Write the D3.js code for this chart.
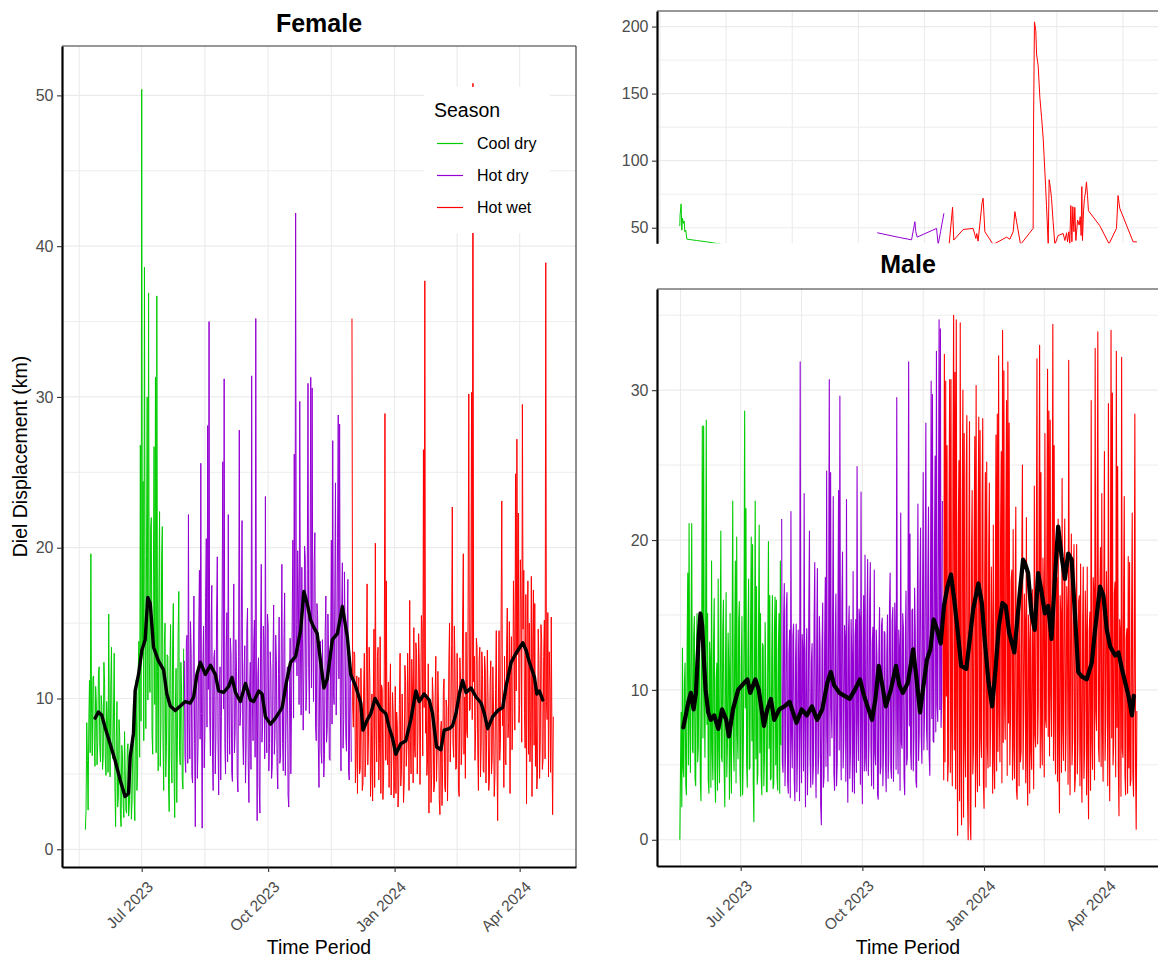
<!DOCTYPE html>
<html>
<head>
<meta charset="utf-8">
<script src="https://cdn.jsdelivr.net/npm/d3@7"></script>
<style>
  html, body { margin: 0; padding: 0; background: #fff; }
  svg { display: block; font-family: "Liberation Sans", Arial, sans-serif; }
</style>
</head>
<body>
<svg id="chart" width="1158" height="959"></svg>
<script>
var DAY = 864e5;

// first day of each series
var femaleStart = new Date(2023, 4, 21),
		maleStart = new Date(2023, 4, 16);

var seasonNames = ["Cool dry", "Hot dry", "Hot wet"],
		seasonColors = ["#00cd00", "#9400d3", "#ff0000"],
		seasonStarts = [new Date(2023, 0, 1), new Date(2023, 7, 1), new Date(2023, 11, 1)];

var xBreaks = [new Date(2023, 6, 1), new Date(2023, 9, 1), new Date(2024, 0, 1), new Date(2024, 3, 1)],
		xLabels = ["Jul 2023", "Oct 2023", "Jan 2024", "Apr 2024"];

// two displacement records (km) per day: first reading ...
var femaleKm = [
	1.3, 8.4, 2.6, 11.2, 19.6, 6.2, 11.5, 5.5, 9.7, 7.0,
	12.1, 5.8, 9.5, 6.1, 11.0, 4.9, 8.7, 15.6, 4.8, 13.4,
	6.0, 13.0, 1.5, 9.8, 3.5, 7.5, 1.5, 6.3, 2.1, 5.2,
	2.4, 7.0, 2.9, 6.3, 3.2, 9.6, 1.9, 11.2, 5.0, 13.8,
	26.8, 50.4, 24.4, 38.6, 8.0, 30.0, 36.9, 10.4, 22.0, 6.3,
	26.7, 31.3, 36.7, 5.2, 22.4, 8.2, 21.4, 3.9, 15.0, 6.8,
	12.8, 2.5, 14.9, 4.4, 16.3, 2.1, 12.0, 7.2, 17.1, 5.6,
	10.5, 4.0, 12.5, 5.1, 14.2, 22.2, 6.0, 13.0, 4.4, 16.8,
	1.5, 11.4, 6.8, 18.5, 25.6, 1.4, 14.8, 8.0, 20.6, 28.1,
	35.0, 6.2, 17.5, 3.9, 13.2, 7.5, 19.4, 3.6, 12.1, 8.8,
	25.7, 31.2, 5.0, 15.7, 22.2, 6.3, 12.9, 4.5, 17.6, 7.9,
	11.8, 3.8, 27.8, 9.1, 21.8, 5.6, 13.5, 6.9, 16.0, 3.1,
	12.4, 31.4, 7.2, 15.2, 35.2, 1.9, 12.7, 2.4, 18.9, 8.3,
	13.6, 23.4, 6.4, 14.8, 7.0, 11.9, 5.5, 16.2, 7.6, 12.5,
	4.0, 15.4, 6.1, 18.9, 5.2, 17.0, 8.3, 12.1, 2.8, 14.0,
	9.2, 20.5, 26.2, 42.2, 11.5, 16.8, 29.7, 8.9, 14.0, 12.0,
	19.3, 10.5, 30.9, 9.0, 31.3, 30.6, 9.8, 21.0, 7.2, 15.5,
	4.1, 13.8, 5.7, 11.0, 6.3, 16.8, 8.0, 12.7, 5.9, 20.5,
	27.1, 9.6, 24.3, 12.2, 28.8, 28.2, 5.2, 19.0, 8.6, 14.3,
	6.5, 17.9, 4.6, 11.0, 35.2, 8.1, 12.9, 6.0, 3.7, 11.4,
	5.3, 9.5, 4.4, 13.0, 6.2, 17.6, 7.4, 11.1, 5.5, 3.2,
	14.6, 20.3, 5.8, 13.4, 7.0, 3.7, 10.6, 4.8, 28.9, 17.8,
	5.6, 4.1, 12.3, 6.3, 9.0, 4.5, 3.7, 8.2, 4.0, 13.0,
	5.2, 7.8, 4.4, 11.2, 6.9, 9.8, 16.5, 5.0, 10.7, 14.7,
	6.1, 13.0, 7.7, 12.4, 9.2, 14.6, 26.5, 37.7, 10.3, 6.0,
	2.4, 8.9, 5.0, 10.1, 4.2, 12.8, 6.6, 9.0, 2.3, 8.5,
	5.7, 11.3, 3.8, 9.4, 6.3, 15.0, 8.2, 22.7, 6.1, 12.0,
	5.4, 9.9, 3.5, 11.2, 6.9, 19.6, 10.1, 14.4, 7.4, 30.2,
	9.3, 30.3, 50.8, 12.8, 8.0, 13.4, 3.9, 13.4, 6.8, 11.6,
	5.1, 11.9, 7.6, 10.0, 4.6, 12.5, 6.0, 9.3, 4.8, 14.5,
	1.9, 14.5, 7.0, 23.1, 9.7, 12.8, 5.6, 16.0, 8.4, 3.7,
	14.1, 9.0, 14.1, 24.9, 27.2, 22.3, 9.6, 16.4, 29.5, 18.5,
	6.7, 3.0, 17.8, 15.0, 8.1, 3.5, 17.2, 16.3, 10.3, 5.0,
	12.6, 7.2, 13.9, 5.9, 15.2, 38.9, 8.6, 4.8, 10.9, 15.4,
	2.3
];
// ... and second reading, half a day later
var femaleKm2 = [
	2.6, 5.9, 8.3, 6.4, 9.0, 11.4, 7.1, 10.8, 5.6, 11.6,
	6.8, 10.2, 5.3, 12.4, 6.0, 9.8, 5.1, 7.5, 10.9, 6.6,
	9.1, 4.2, 7.4, 2.8, 8.6, 2.3, 6.9, 3.0, 7.8, 2.6,
	6.6, 2.2, 5.8, 2.0, 7.3, 3.4, 8.8, 3.9, 12.0, 6.1,
	8.5, 13.1, 7.2, 15.4, 19.5, 9.9, 12.6, 21.3, 7.7, 18.2,
	9.6, 6.4, 11.8, 17.0, 5.5, 19.3, 7.1, 13.6, 4.8, 12.9,
	4.3, 11.7, 6.0, 13.5, 5.2, 9.4, 3.1, 14.2, 6.5, 12.4,
	4.6, 13.3, 6.2, 13.8, 5.7, 8.4, 15.1, 4.9, 12.6, 7.0,
	10.9, 4.7, 14.6, 7.3, 9.0, 12.2, 5.4, 16.7, 8.1, 10.6,
	8.8, 14.9, 6.1, 12.7, 5.0, 15.8, 7.4, 11.0, 4.6, 16.2,
	9.3, 7.0, 13.4, 5.8, 8.7, 14.0, 5.1, 12.5, 6.4, 13.9,
	4.9, 12.8, 8.2, 15.3, 7.6, 11.9, 4.4, 14.6, 5.9, 10.4,
	5.3, 9.7, 13.6, 6.1, 10.2, 11.5, 4.2, 13.9, 7.1, 14.8,
	6.0, 8.5, 15.6, 5.2, 13.1, 4.7, 12.3, 6.3, 14.2, 5.4,
	11.6, 5.7, 12.9, 7.0, 13.8, 4.9, 11.2, 3.6, 9.5, 5.0,
	15.1, 8.7, 12.4, 14.9, 19.8, 9.6, 13.3, 18.7, 7.9, 20.1,
	9.2, 18.6, 12.0, 17.4, 10.7, 14.5, 19.0, 8.1, 16.3, 6.9,
	12.2, 6.5, 13.9, 4.8, 14.4, 7.1, 15.6, 6.0, 13.5, 8.3,
	10.4, 17.2, 8.9, 20.6, 11.3, 9.8, 16.0, 6.7, 18.4, 7.5,
	14.8, 5.2, 12.6, 5.8, 9.5, 13.1, 4.4, 11.5, 9.9, 5.0,
	12.0, 3.9, 10.7, 4.8, 12.9, 5.6, 13.4, 3.5, 10.3, 9.7,
	4.1, 8.0, 12.8, 4.6, 14.1, 10.9, 3.3, 12.1, 5.9, 6.2,
	11.1, 9.8, 3.6, 10.4, 3.4, 10.8, 9.1, 2.8, 9.6, 4.2,
	10.3, 3.1, 12.2, 5.5, 13.0, 3.9, 7.2, 12.6, 4.4, 6.8,
	13.7, 5.0, 14.3, 4.3, 15.5, 6.2, 9.4, 7.7, 4.9, 12.3,
	9.7, 3.1, 11.4, 3.8, 10.0, 4.5, 11.8, 3.3, 7.9, 2.9,
	10.6, 4.1, 9.9, 3.2, 12.4, 5.8, 13.6, 7.0, 14.8, 5.3,
	13.0, 4.0, 12.7, 5.6, 15.2, 6.3, 4.7, 7.8, 16.1, 9.2,
	15.4, 8.6, 11.1, 5.9, 14.0, 6.6, 12.5, 4.8, 13.1, 5.2,
	12.8, 4.4, 13.2, 3.9, 11.0, 5.0, 12.1, 3.5, 10.6, 6.2,
	9.3, 5.9, 15.0, 8.2, 4.1, 6.0, 13.3, 7.4, 15.1, 12.0,
	6.6, 17.8, 7.9, 10.5, 12.9, 8.4, 19.2, 7.1, 14.6, 9.0,
	16.9, 14.2, 6.3, 5.8, 18.1, 13.6, 6.9, 5.5, 4.0, 14.6,
	4.7, 14.9, 5.3, 12.8, 6.0, 9.8, 15.7, 13.1, 5.1, 7.2,
	8.8
];

// male main panel (records up to 35 km), first reading each day ...
var maleKm = [
	0.0, 8.5, 12.8, 4.2, 11.8, 3.0, 17.8, 21.1, 4.5, 21.1,
	5.8, 14.9, 3.6, 15.1, 6.2, 12.5, 2.6, 27.6, 27.6, 5.5,
	28.0, 15.1, 3.1, 12.0, 18.6, 4.0, 16.1, 2.5, 11.8, 17.4,
	3.8, 20.6, 5.2, 16.0, 2.2, 16.5, 6.3, 11.5, 15.1, 3.1,
	22.6, 4.6, 18.6, 20.2, 5.4, 15.9, 2.9, 14.9, 6.1, 28.6,
	22.1, 3.5, 17.4, 4.8, 20.2, 19.7, 1.2, 22.6, 16.9, 4.4,
	21.0, 15.1, 3.0, 12.9, 5.5, 10.8, 3.2, 19.9, 16.3, 4.1,
	16.3, 3.7, 16.2, 16.0, 3.3, 15.1, 18.6, 21.4, 4.5, 17.1,
	6.0, 16.5, 3.1, 14.0, 21.9, 4.8, 14.4, 2.6, 14.4, 5.9,
	10.5, 31.9, 3.8, 12.6, 23.1, 2.2, 14.1, 6.4, 20.6, 3.5,
	13.1, 4.9, 18.5, 2.8, 18.1, 5.6, 12.9, 1.0, 15.8, 4.2,
	17.5, 24.6, 3.9, 30.7, 24.5, 6.8, 22.9, 3.3, 16.4, 5.1,
	23.3, 29.6, 4.0, 19.2, 6.7, 13.4, 22.7, 2.5, 15.6, 5.8,
	12.2, 17.9, 3.1, 14.7, 24.9, 5.3, 14.8, 23.2, 2.4, 16.3,
	19.0, 4.6, 18.7, 6.3, 18.5, 3.6, 14.2, 18.0, 5.0, 12.3,
	2.7, 15.5, 4.9, 14.8, 6.0, 13.8, 3.2, 15.0, 5.7, 17.8,
	4.1, 15.5, 7.4, 13.0, 29.5, 4.4, 12.6, 21.8, 6.1, 14.2,
	3.0, 16.6, 5.5, 31.9, 20.4, 4.7, 15.4, 6.9, 13.8, 3.5,
	22.4, 7.2, 20.8, 5.1, 24.5, 8.4, 27.8, 6.0, 22.2, 4.3,
	30.6, 29.7, 6.5, 25.6, 32.6, 7.9, 34.7, 34.1, 9.5, 14.0,
	32.4, 30.6, 26.3, 5.1, 30.7, 30.7, 3.6, 35.0, 31.2, 34.7,
	0.3, 25.3, 34.5, 1.0, 30.0, 27.1, 4.2, 28.3, 0.0, 27.9,
	0.0, 23.3, 6.1, 26.9, 30.3, 3.2, 28.2, 27.3, 5.5, 28.1,
	2.1, 24.5, 25.2, 4.8, 23.8, 7.9, 14.2, 21.0, 3.4, 27.0,
	28.4, 32.3, 5.2, 25.9, 34.0, 31.3, 6.7, 29.3, 31.9, 27.8,
	8.2, 18.0, 20.7, 4.1, 22.2, 2.7, 12.5, 16.0, 5.9, 25.0,
	8.8, 14.6, 21.5, 2.3, 13.2, 15.4, 4.7, 11.8, 23.6, 6.2,
	32.1, 9.0, 33.0, 24.5, 5.0, 16.2, 27.1, 7.5, 31.4, 28.6,
	28.0, 6.9, 34.4, 26.3, 4.4, 17.5, 21.4, 1.8, 15.0, 24.1,
	5.3, 21.4, 7.2, 14.9, 32.0, 3.0, 20.4, 6.8, 19.7, 4.1,
	19.7, 6.6, 16.3, 18.4, 2.5, 18.2, 6.1, 14.0, 18.2, 1.4,
	15.2, 29.3, 4.7, 16.6, 32.8, 7.3, 33.9, 5.2, 19.5, 23.1,
	3.9, 25.9, 8.0, 14.5, 29.1, 2.6, 34.0, 29.8, 6.4, 17.2,
	32.6, 24.9, 1.6, 13.8, 32.2, 5.5, 22.9, 3.0, 14.1, 18.9,
	18.5, 4.0, 21.8, 2.9, 28.4, 0.7
];
// ... and second reading
var maleKm2 = [
	4.5, 2.2, 4.8, 10.5, 3.7, 12.4, 5.0, 8.1, 13.9, 6.0,
	13.6, 4.1, 11.8, 5.2, 14.7, 3.9, 12.0, 6.8, 9.4, 14.3,
	7.7, 4.0, 13.2, 3.5, 5.9, 13.0, 4.6, 10.7, 3.3, 6.2,
	12.5, 5.5, 14.0, 4.9, 11.3, 4.2, 13.8, 2.7, 5.6, 12.9,
	6.4, 13.5, 3.8, 7.0, 14.6, 4.5, 11.7, 3.0, 13.4, 8.8,
	5.1, 12.6, 4.7, 14.1, 6.6, 3.9, 12.3, 5.4, 3.7, 13.7,
	5.8, 4.3, 13.1, 3.6, 14.5, 3.2, 12.8, 6.1, 4.0, 12.2,
	3.4, 13.9, 5.0, 4.2, 12.7, 3.1, 6.3, 5.2, 14.8, 3.6,
	15.3, 3.9, 12.4, 2.8, 6.9, 13.6, 4.0, 12.1, 3.2, 14.0,
	2.6, 7.4, 13.7, 4.6, 8.0, 12.5, 3.0, 15.2, 5.3, 11.9,
	3.7, 14.4, 5.8, 13.0, 4.4, 14.9, 2.3, 12.6, 3.5, 13.3,
	4.9, 7.2, 14.5, 5.6, 8.8, 15.0, 4.4, 13.2, 3.6, 14.1,
	6.0, 8.3, 15.7, 4.8, 14.3, 3.9, 6.6, 13.8, 4.1, 14.7,
	3.2, 5.7, 13.6, 4.5, 7.9, 15.4, 3.7, 6.8, 12.9, 4.6,
	5.5, 14.2, 4.3, 15.6, 6.2, 13.1, 3.4, 5.8, 14.0, 3.0,
	12.7, 4.4, 14.3, 3.6, 13.9, 5.2, 12.4, 4.1, 15.5, 4.8,
	14.6, 3.9, 15.8, 4.7, 8.2, 14.0, 3.3, 6.5, 15.1, 4.2,
	13.4, 5.0, 16.2, 7.6, 5.9, 15.3, 4.6, 16.8, 3.9, 14.5,
	5.3, 17.0, 6.9, 16.1, 6.0, 18.3, 7.4, 17.6, 5.7, 16.4,
	8.1, 6.6, 19.2, 7.2, 9.0, 20.4, 8.7, 7.5, 22.6, 4.0,
	5.2, 9.6, 3.9, 21.8, 4.5, 7.3, 25.0, 6.0, 3.4, 8.9,
	20.5, 2.6, 5.8, 22.4, 1.5, 6.2, 24.1, 3.0, 19.6, 1.2,
	18.9, 4.4, 20.3, 2.2, 5.7, 21.0, 3.6, 6.8, 22.5, 4.0,
	17.7, 3.5, 6.3, 19.4, 4.9, 18.2, 3.1, 5.4, 16.8, 4.6,
	5.9, 8.4, 20.6, 3.8, 6.5, 9.1, 21.7, 4.3, 7.8, 5.0,
	17.3, 4.0, 6.2, 16.5, 3.3, 15.8, 3.6, 5.2, 17.9, 4.7,
	16.4, 3.8, 5.5, 15.0, 3.1, 5.9, 16.7, 3.4, 7.0, 18.1,
	6.4, 19.5, 4.8, 7.3, 18.8, 4.2, 8.0, 20.2, 6.9, 5.6,
	9.7, 18.4, 5.3, 8.1, 17.2, 3.9, 6.0, 16.3, 4.5, 7.4,
	17.1, 4.6, 16.9, 3.7, 7.9, 15.6, 5.0, 17.4, 3.2, 14.8,
	4.4, 15.9, 3.6, 5.8, 14.2, 4.1, 16.6, 3.0, 5.5, 13.9,
	3.3, 6.7, 17.5, 4.0, 8.6, 18.8, 6.2, 16.0, 4.9, 7.1,
	16.2, 5.3, 17.9, 3.6, 7.7, 15.5, 6.8, 5.0, 16.4, 4.2,
	7.5, 4.9, 14.7, 2.9, 6.1, 16.3, 4.4, 13.5, 3.1, 4.8,
	3.6, 14.2, 4.5, 13.0, 5.2, 8.6
];

// rolling mean (black line): day offset from series start, km
var femaleMeanDay = [
	7.1, 9.5, 11.9, 14.3, 18.0, 21.6, 25.3, 28.9, 31.4, 32.6,
	35.0, 36.2, 38.7, 41.1, 43.5, 45.4, 47.2, 49.6, 53.2, 56.9,
	59.3, 61.8, 65.4, 69.1, 72.7, 76.4, 78.8, 81.2, 83.7, 87.3,
	91.0, 94.6, 97.0, 100.6, 104.3, 106.7, 109.2, 112.8, 116.5, 120.1,
	122.5, 126.2, 128.6, 131.0, 134.7, 138.3, 143.2, 146.1, 149.3, 153.0,
	156.6, 159.0, 161.4, 163.9, 166.3, 168.7, 171.2, 173.6, 176.0, 179.7,
	183.4, 187.0, 190.6, 193.1, 196.7, 200.4, 202.0, 205.2, 207.7, 210.8,
	214.9, 218.6, 221.0, 223.4, 225.9, 229.5, 233.2, 236.8, 240.5, 242.9,
	246.5, 250.2, 252.6, 255.5, 258.7, 261.1, 264.8, 267.2, 269.7, 272.1,
	274.5, 277.0, 280.6, 284.3, 287.9, 290.3, 292.8, 296.4, 300.1, 303.7,
	306.1, 309.8, 313.4, 318.3, 320.7, 323.1, 326.8, 328.5, 330.4, 332.8
];
var femaleMeanKm = [
	8.7, 9.1, 8.9, 8.1, 7.0, 5.9, 4.6, 3.5, 3.7, 6.1,
	7.7, 10.5, 11.6, 13.2, 13.9, 16.7, 16.3, 13.4, 12.5, 11.9,
	10.3, 9.5, 9.2, 9.5, 9.8, 9.7, 10.1, 11.6, 12.4, 11.6,
	12.2, 11.6, 10.5, 10.4, 10.8, 11.4, 10.4, 9.8, 11.0, 9.9,
	9.8, 10.5, 10.3, 8.8, 8.3, 8.7, 9.4, 11.0, 12.4, 12.8,
	14.5, 17.1, 16.3, 15.2, 14.7, 14.3, 12.4, 10.7, 11.3, 13.9,
	14.3, 16.1, 14.1, 11.6, 10.8, 9.7, 7.9, 8.6, 9.0, 10.0,
	9.3, 9.0, 8.1, 7.4, 6.3, 7.0, 7.2, 8.6, 10.5, 9.8,
	10.3, 9.9, 9.0, 6.8, 6.6, 7.9, 8.0, 8.2, 9.0, 10.3,
	11.2, 10.4, 10.7, 10.1, 9.7, 9.0, 8.0, 8.8, 9.2, 9.4,
	10.8, 12.4, 13.0, 13.7, 13.2, 12.4, 11.4, 10.3, 10.5, 9.9
];

var maleMeanDay = [
	2.6, 4.5, 6.5, 8.3, 10.4, 12.2, 14.3, 15.6, 16.9, 18.2,
	19.5, 21.5, 23.4, 26.0, 29.1, 31.9, 35.1, 37.1, 40.2, 44.1,
	48.0, 51.1, 53.2, 57.1, 59.7, 63.6, 66.1, 68.8, 71.4, 75.2,
	79.1, 83.0, 85.6, 88.2, 92.1, 96.0, 99.9, 103.8, 107.7, 111.6,
	114.2, 116.7, 120.7, 124.5, 128.4, 132.3, 136.2, 139.3, 141.9, 145.3,
	147.9, 150.4, 153.1, 155.7, 159.5, 163.4, 166.0, 168.7, 172.5, 176.4,
	179.0, 181.6, 184.2, 186.8, 189.4, 191.9, 194.6, 197.2, 199.7, 202.4,
	205.0, 207.5, 210.2, 212.7, 216.6, 219.2, 221.8, 225.7, 228.3, 230.9,
	233.4, 236.1, 238.7, 241.2, 243.9, 246.4, 249.0, 252.9, 257.0, 259.5,
	260.8, 263.3, 265.8, 268.3, 270.9, 273.5, 276.0, 278.5, 281.0, 283.5,
	286.0, 288.6, 291.1, 293.6, 296.2, 298.7, 301.2, 303.8, 307.6, 311.4,
	313.9, 317.7, 320.2, 322.8, 325.3, 329.1, 331.6, 334.2, 336.7, 339.2,
	341.8, 343.2
];
var maleMeanKm = [
	7.5, 8.3, 9.2, 9.8, 8.7, 9.8, 13.6, 15.1, 14.3, 12.0,
	10.0, 8.5, 8.0, 8.3, 7.4, 8.7, 8.0, 6.9, 8.7, 10.0,
	10.4, 10.7, 9.8, 10.7, 10.0, 7.6, 8.7, 9.4, 8.0, 8.7,
	8.9, 9.2, 8.5, 7.8, 8.7, 8.3, 8.9, 8.0, 8.7, 10.5,
	11.2, 10.3, 9.8, 9.6, 9.4, 10.0, 10.7, 9.6, 8.9, 8.0,
	9.4, 11.6, 10.3, 8.9, 10.0, 11.6, 10.3, 9.8, 10.5, 12.7,
	10.7, 8.5, 10.3, 12.0, 12.7, 14.7, 14.0, 13.1, 15.6, 16.9,
	17.7, 16.0, 13.8, 11.6, 11.4, 13.4, 15.4, 17.1, 15.8, 12.9,
	10.5, 8.9, 11.4, 14.3, 15.8, 15.6, 13.8, 12.5, 16.5, 18.7,
	18.5, 17.8, 15.1, 14.0, 17.8, 16.5, 15.1, 15.6, 13.4, 17.4,
	20.9, 18.9, 17.4, 19.1, 18.7, 15.1, 11.2, 10.9, 10.7, 11.8,
	14.0, 16.9, 16.3, 14.0, 12.9, 12.3, 12.5, 11.4, 10.5, 9.6,
	8.3, 9.6
];

// male records above ~38 km (top strip): day offset from maleStart, km
var insetGreenDay = [0, 0.2, 1.0, 1.5, 2.0, 2.8, 3.3, 3.8, 4.5, 5.3, 12.6, 20.2, 32.7],
		insetGreenKm = [51.5, 59.5, 67.8, 48.2, 57, 53.3, 55, 47, 48.2, 41.5, 40.5, 39.5, 37.5];
var insetPurpleDay = [149.5, 166.3, 175.2, 177.7, 178.4, 179.4, 194.1, 195.3, 197.1, 199.6],
		insetPurpleKm = [46.2, 42.7, 41, 54.5, 47, 43, 49.5, 37.5, 47, 60.5];
var insetRedDay = [
	203.6, 206.2, 207.1, 214.2, 221.7, 223.0, 223.8, 224.5, 225.5, 228.5,
	229.3, 230.6, 236.9, 247.0, 249.5, 252.0, 253.3, 254.5, 257.6, 267.1,
	267.4, 268.1, 269.1, 269.7, 270.9, 272.2, 273.5, 274.7, 275.4, 276.5,
	277.2, 278.5, 279.2, 280.2, 281.0, 282.2, 283.5, 286.0, 289.8, 291.1,
	292.4, 293.1, 294.1, 294.8, 295.6, 296.4, 297.1, 297.9, 298.6, 299.4,
	300.7, 301.9, 302.7, 303.4, 303.9, 304.4, 305.2, 305.9, 306.7, 307.4,
	308.2, 308.9, 317.5, 324.5, 330.1, 331.3, 332.6, 342.7, 345.2
];
var insetRedKm = [
	37.5, 65.2, 40.8, 48.7, 49.5, 45, 42, 45.7, 40, 68.7,
	72, 47, 37.5, 43, 41.5, 47, 62, 55, 37.5, 49.5,
	126.5, 203.5, 197, 179.5, 170.7, 147, 132, 116.7, 103, 81.5,
	66.5, 37.5, 85.8, 79.3, 71.7, 54.5, 37.5, 44.2, 45.7, 40.5,
	46.2, 39.5, 47, 38, 66.5, 39.5, 65.7, 47, 65.2, 40.5,
	55.7, 52, 58.2, 44.2, 80.7, 40.5, 62.7, 71.7, 76.7, 84.2,
	74.2, 62.7, 51.5, 38, 49.5, 74, 64.5, 39.5, 39.5
];
var insetGridDays = [-15, 35, 85, 135, 185, 235, 285, 335],
		insetLimits = [38.4, 211.6];


var svg = d3.select("#chart");
var defs = svg.append("defs");

function dayToDate(start, d) {
	return new Date(start.getTime() + d * DAY);
}

function seasonOf(date) {
	var s = 0;
	seasonStarts.forEach(function(t, i) { if(date >= t) s = i; });
	return s;
}

// ggplot style 5% padding on a numeric or date extent
function expand(ext) {
	var a = +ext[0], b = +ext[1],
			pad = (b - a) * 0.05;
	return [a - pad, b + pad];
}

// minor date breaks halfway between the quarterly ones
var xAll = [new Date(2023, 3, 1)].concat(xBreaks, [new Date(2024, 6, 1)]);
var xMinor = d3.pairs(xAll, function(a, b) { return new Date((+a + +b) / 2); });

function makePanel(opt) {
	var panel = {opt: opt};
	panel.x = d3.scaleTime().domain(opt.xDomain.map(function(t) { return new Date(t); })).range([opt.left, opt.right]);
	panel.y = d3.scaleLinear().domain(opt.yDomain).range([opt.bottom, opt.top]);

	defs.append("clipPath")
			.attr("id", "clip-" + opt.id)
		.append("rect")
			.attr("x", opt.left)
			.attr("y", opt.top)
			.attr("width", opt.right - opt.left)
			.attr("height", opt.bottom - opt.top);

	var grid = svg.append("g").attr("clip-path", "url(#clip-" + opt.id + ")");

	function hline(v, w) {
		grid.append("line")
			.attr("x1", opt.left).attr("x2", opt.right)
			.attr("y1", panel.y(v)).attr("y2", panel.y(v))
			.attr("stroke", "#ebebeb").attr("stroke-width", w);
	}
	function vline(xv, w) {
		grid.append("line")
			.attr("x1", xv).attr("x2", xv)
			.attr("y1", opt.top).attr("y2", opt.bottom)
			.attr("stroke", "#ebebeb").attr("stroke-width", w);
	}
	opt.yMinor.forEach(function(v) { hline(v, 0.9); });
	opt.yMajor.forEach(function(v) { hline(v, 1.2); });
	opt.xGrid.forEach(function(d) { vline(panel.x(d), 1.1); });

	panel.layer = svg.append("g").attr("clip-path", "url(#clip-" + opt.id + ")");
	return panel;
}

// one path per season through both daily readings
function drawSeries(panel, start, first, second, width) {
	var pts = [];
	first.forEach(function(v, i) {
		var day = d3.timeDay.offset(start, i);
		pts.push({date: day, km: v});
		if(second[i] != null) pts.push({date: dayToDate(day, 0.5), km: second[i]});
	});
	var line = d3.line()
			.x(function(d) { return panel.x(d.date); })
			.y(function(d) { return panel.y(d.km); });
	seasonNames.forEach(function(name, s) {
		var seg = pts.filter(function(d) { return seasonOf(d.date) === s; });
		if(!seg.length) return;
		panel.layer.append("path")
			.datum(seg)
			.attr("d", line)
			.attr("fill", "none")
			.attr("stroke", seasonColors[s])
			.attr("stroke-width", width)
			.attr("stroke-linejoin", "round");
	});
}

function drawLine(panel, start, days, kms, color, width) {
	var pts = days.map(function(d, i) { return {date: dayToDate(start, d), km: kms[i]}; });
	panel.layer.append("path")
		.datum(pts)
		.attr("d", d3.line()
			.x(function(d) { return panel.x(d.date); })
			.y(function(d) { return panel.y(d.km); }))
		.attr("fill", "none")
		.attr("stroke", color)
		.attr("stroke-width", width)
		.attr("stroke-linejoin", "round")
		.attr("stroke-linecap", "round");
}

function drawFrame(panel) {
	var opt = panel.opt,
			g = svg.append("g");

	g.append("line")
		.attr("x1", opt.left).attr("x2", opt.right)
		.attr("y1", opt.top).attr("y2", opt.top)
		.attr("stroke", "#333").attr("stroke-width", 1.1);
	g.append("line")
		.attr("x1", opt.right).attr("x2", opt.right)
		.attr("y1", opt.top).attr("y2", opt.bottom)
		.attr("stroke", "#333").attr("stroke-width", 1.1);

	var yAxis = g.append("g")
			.attr("transform", "translate(" + opt.left + ",0)")
			.call(d3.axisLeft(panel.y).tickValues(opt.yMajor).tickSize(5).tickSizeOuter(0).tickPadding(3.5));
	yAxis.select(".domain").attr("stroke", "#000").attr("stroke-width", 2.2);
	yAxis.selectAll(".tick line").attr("stroke", "#333").attr("stroke-width", 1.1);
	yAxis.selectAll(".tick text")
		.attr("fill", "#4d4d4d")
		.style("font-size", "16px")
		.style("font-family", "'Liberation Sans', Arial, sans-serif");

	if(opt.xAxis) {
		var xAxis = g.append("g")
				.attr("transform", "translate(0," + opt.bottom + ")")
				.call(d3.axisBottom(panel.x)
					.tickValues(xBreaks)
					.tickFormat(function(d, i) { return xLabels[i]; })
					.tickSize(5).tickSizeOuter(0));
		xAxis.select(".domain").attr("stroke", "#000").attr("stroke-width", 2.2);
		xAxis.selectAll(".tick line").attr("stroke", "#333").attr("stroke-width", 1.1);
		xAxis.selectAll(".tick text")
			.attr("x", null).attr("y", null).attr("dy", null)
			.attr("transform", "translate(12,21) rotate(-45)")
			.attr("text-anchor", "end")
			.attr("fill", "#4d4d4d")
			.style("font-size", "15.5px")
			.style("font-family", "'Liberation Sans', Arial, sans-serif");

		svg.append("text")
			.attr("x", (opt.left + opt.right) / 2)
			.attr("y", 954)
			.attr("text-anchor", "middle")
			.style("font-size", "19.5px")
			.text("Time Period");
	}

	if(opt.title) {
		svg.append("text")
			.attr("x", (opt.left + opt.right) / 2)
			.attr("y", opt.titleY)
			.attr("text-anchor", "middle")
			.style("font-size", "25px")
			.style("font-weight", "bold")
			.text(opt.title);
	}
}

// ---------- Female ----------
var female = makePanel({
	id: "female",
	left: 62, right: 576, top: 46, bottom: 867,
	xDomain: expand([femaleStart, d3.timeDay.offset(femaleStart, femaleKm.length - 1)]),
	yDomain: expand(d3.extent(femaleKm.concat(femaleKm2))),
	yMajor: [0, 10, 20, 30, 40, 50],
	yMinor: [5, 15, 25, 35, 45],
	xGrid: xMinor.concat(xBreaks),
	xAxis: true,
	title: "Female", titleY: 32
});
drawSeries(female, femaleStart, femaleKm, femaleKm2, 1);
drawLine(female, femaleStart, femaleMeanDay, femaleMeanKm, "#000", 3.4);
drawFrame(female);

svg.append("text")
	.attr("transform", "translate(27,456.5) rotate(-90)")
	.attr("text-anchor", "middle")
	.style("font-size", "19.5px")
	.text("Diel Displacement (km)");

// legend inside the female panel
var legend = svg.append("g");
legend.append("rect")
	.attr("x", 424).attr("y", 87)
	.attr("width", 126).attr("height", 146)
	.attr("fill", "#fff");
legend.append("text")
	.attr("x", 434).attr("y", 116.5)
	.style("font-size", "19.5px")
	.text("Season");
seasonNames.forEach(function(name, i) {
	var ky = Math.round(143 + i * 31.8) + 0.5;
	legend.append("line")
		.attr("x1", 437).attr("x2", 463)
		.attr("y1", ky).attr("y2", ky)
		.attr("stroke", seasonColors[i])
		.attr("stroke-width", 1.2);
	legend.append("text")
		.attr("x", 477).attr("y", ky)
		.attr("dy", "0.35em")
		.style("font-size", "16px")
		.text(name);
});

// ---------- Male ----------
var maleXDomain = expand([maleStart, d3.timeDay.offset(maleStart, maleKm.length - 1)]);

var male = makePanel({
	id: "male",
	left: 657, right: 1159, top: 289, bottom: 866,
	xDomain: maleXDomain,
	yDomain: expand(d3.extent(maleKm.concat(maleKm2))),
	yMajor: [0, 10, 20, 30],
	yMinor: [5, 15, 25, 35],
	xGrid: xMinor.concat(xBreaks),
	xAxis: true,
	title: "Male", titleY: 273
});
drawSeries(male, maleStart, maleKm, maleKm2, 1.1);
drawLine(male, maleStart, maleMeanDay, maleMeanKm, "#000", 4.2);
drawFrame(male);

// top strip: the male records above the main panel's range
var inset = makePanel({
	id: "inset",
	left: 657, right: 1159, top: 11, bottom: 243.3,
	xDomain: maleXDomain,
	yDomain: insetLimits,
	yMajor: [50, 100, 150, 200],
	yMinor: [75, 125, 175],
	xGrid: insetGridDays.map(function(d) { return dayToDate(maleStart, d); }),
	xAxis: false
});
[[insetGreenDay, insetGreenKm], [insetPurpleDay, insetPurpleKm], [insetRedDay, insetRedKm]]
	.forEach(function(pair, s) {
		drawLine(inset, maleStart, pair[0], pair[1], seasonColors[s], 1);
	});
drawFrame(inset);
</script>
</body>
</html>
